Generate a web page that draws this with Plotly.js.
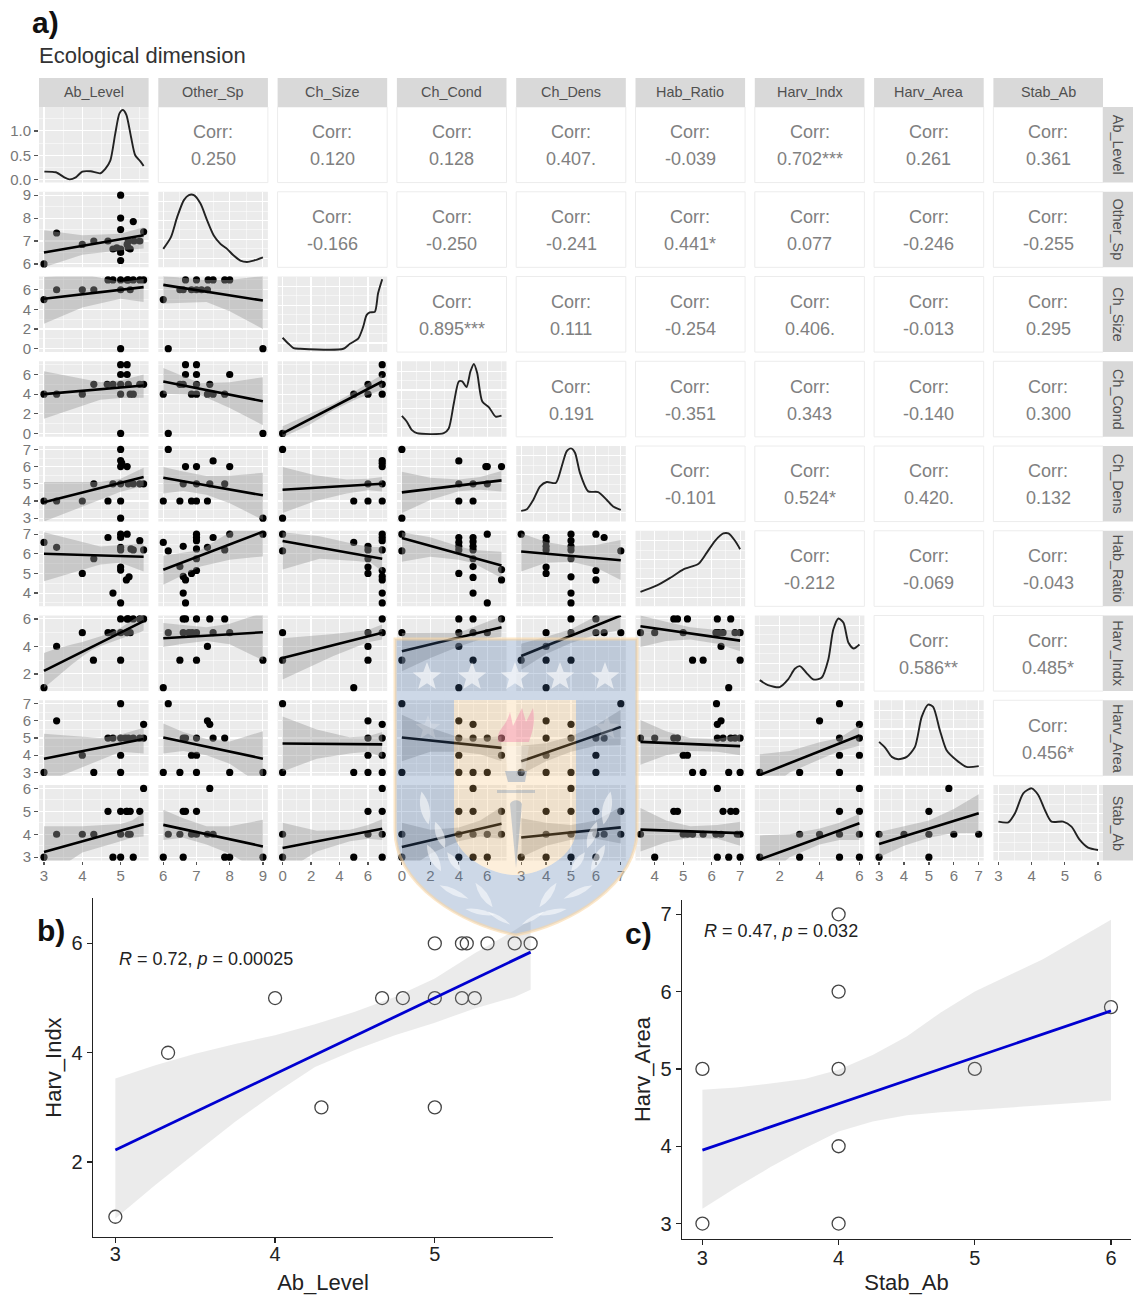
<!DOCTYPE html>
<html>
<head>
<meta charset="utf-8">
<script src="https://cdn.plot.ly/plotly-3.0.1.min.js"></script>
<style>html,body{margin:0;padding:0;background:#fff}#plot{width:1134px;height:1295px}</style>
</head>
<body>
<div id="plot"></div>
<script>
// ---------- variables ----------
const variables = ['Ab_Level','Other_Sp','Ch_Size','Ch_Cond','Ch_Dens','Hab_Ratio','Harv_Indx','Harv_Area','Stab_Ab'];
const varRanges = [[2.87,5.73],[5.85,9.15],[-0.35,7.35],[-0.35,7.35],[2.8,7.2],[3.325,7.175],[0.75,6.25],[2.8,7.2],[2.85,6.15]];
const varTicks  = [[3,4,5],[6,7,8,9],[0,2,4,6],[0,2,4,6],[3,4,5,6,7],[4,5,6,7],[2,4,6],[3,4,5,6,7],[3,4,5,6]];

// ---------- correlation labels (upper triangle, by row) ----------
const corrRow1 = ['0.250','0.120','0.128','0.407.','-0.039','0.702***','0.261','0.361'];
const corrRow2 = ['-0.166','-0.250','-0.241','0.441*','0.077','-0.246','-0.255'];
const corrRow3 = ['0.895***','0.111','-0.254','0.406.','-0.013','0.295'];
const corrRow4 = ['0.191','-0.351','0.343','-0.140','0.300'];
const corrRow5 = ['-0.101','0.524*','0.420.','0.132'];
const corrRow6 = ['-0.212','-0.069','-0.043'];
const corrRow7 = ['0.586**','0.485*'];
const corrRow8 = ['0.456*'];

// ---------- density curves (diagonal) ----------
const densAbLevel = [[3.01,.166],[3.31,.152],[3.53,.048],[3.67,.007],[3.83,.048],[4,.166],[4.22,.172],[4.47,.131],[4.6,.22],[4.73,.39],[4.86,.945],[4.97,1.36],[5.06,1.43],[5.15,1.33],[5.27,.88],[5.38,.5],[5.51,.38],[5.6,.28]];
const densOtherSp = [[6,.244],[6.23,.4],[6.42,.667],[6.62,.889],[6.77,.956],[6.92,.956],[7.12,.844],[7.32,.622],[7.52,.422],[7.72,.311],[7.92,.244],[8.12,.156],[8.32,.089],[8.52,.071],[8.72,.089],[9,.133]];
const densChSize = [[0,.19],[.42,.11],[.77,.053],[1.23,.044],[4.27,.044],[4.73,.11],[5.31,.178],[5.66,.333],[5.9,.489],[6.13,.524],[6.48,.533],[6.71,.778],[7,.964]];
const densChCond = [[0,.276],[.35,.2],[.71,.089],[1.06,.049],[2.94,.049],[3.29,.111],[3.65,.444],[4,.733],[4.24,.733],[4.54,.658],[4.82,.867],[5.06,.964],[5.29,.844],[5.65,.467],[6.12,.391],[6.59,.267],[7,.28]];
const densChDens = [[3,.142],[3.23,.164],[3.49,.289],[3.76,.467],[4.03,.524],[4.39,.511],[4.63,.733],[4.83,.933],[5,.969],[5.16,.911],[5.36,.644],[5.69,.4],[6.09,.391],[6.43,.289],[6.69,.2],[7,.156]];
const densHabRatio = [[3.5,.191],[4.08,.276],[4.55,.378],[5.01,.489],[5.54,.564],[5.83,.711],[6.12,.867],[6.41,.964],[6.59,.964],[6.82,.867],[7,.756]];
const densHarvIndx = [[1,.145],[1.41,.079],[2,.053],[2.42,.154],[2.76,.295],[3.01,.33],[3.34,.242],[3.68,.154],[4.1,.176],[4.44,.419],[4.69,.815],[4.95,.96],[5.2,.903],[5.45,.639],[5.71,.564],[6,.617]];
const densHarvArea = [[3,.449],[3.24,.374],[3.51,.251],[3.77,.22],[4.11,.251],[4.44,.383],[4.71,.78],[4.97,.943],[5.17,.912],[5.44,.604],[5.71,.339],[6.11,.207],[6.51,.119],[7,.128]];
const densStabAb = [[3,.515],[3.3,.507],[3.5,.626],[3.75,.89],[4,.956],[4.2,.868],[4.4,.67],[4.6,.515],[4.95,.515],[5.2,.449],[5.45,.273],[5.7,.172],[6,.141]];

// ---------- panel b / c ----------
const bPoints = [[3,1],[3.33,4],[4,5],[4.29,3],[4.67,5],[4.8,5],[5,6],[5,5],[5,3],[5.17,6],[5.2,6],[5.17,5],[5.25,5],[5.33,6],[5.5,6],[5.6,6]];
const bFit = [3,2.22,5.6,5.84];
const bBand = [[3,.97,3.53],[3.25,1.58,3.77],[3.5,2.16,3.98],[3.75,2.74,4.16],[4,3.26,4.32],[4.25,3.74,4.52],[4.5,4.05,4.75],[4.75,4.32,5.02],[5,4.55,5.36],[5.25,4.81,5.82],[5.5,5.02,6.24],[5.6,5.15,6.43]];
const cPoints = [[3,3],[3,5],[4,7],[4,6],[4,5],[4,4],[4,3],[5,5],[6,5.8]];
const cFit = [3,3.95,6,5.75];
const cBand = [[3,3.19,4.73],[3.25,3.47,4.76],[3.5,3.73,4.81],[3.75,3.97,4.87],[4,4.19,4.99],[4.25,4.32,5.18],[4.5,4.4,5.42],[4.75,4.44,5.73],[5,4.47,6],[5.5,4.53,6.42],[6,4.59,6.93]];

// ---------- scatter panels: points, fits [x0,y0,x1,y1], bands [x,lo,hi], one entry per column ----------
const row2Points = [
 [[3,6],[3.33,7.35],[4,6.85],[4.3,7],[4.67,7],[4.8,6.65],[5,9],[5,8],[5,7.5],[5,6.65],[5,6.5],[5,6.15],[5.17,6.85],[5.2,6.7],[5.2,7],[5.33,7.85],[5.25,6.65],[5.35,7],[5.5,7],[5.6,7.4],[4.9,6.7]]];
const row2Fit = [[3,6.5,5.6,7.25]];
const row2Band = [[[3,5.85,7.47],[4,6.4,7.25],[5,6.6,7.32],[5.6,6.67,7.6]]];

const row3Points = [
 [[3,5],[3.33,6],[4,6],[4.3,6],[4.67,7],[4.8,7],[5,7],[5,6],[5,0],[5.17,7],[5.2,7],[5.25,6],[5.33,7],[5.5,7],[5.6,7]],
 [[6,5],[6.15,0],[9,0],[6.5,6],[6.6,6],[6.67,7],[7,7],[6.85,6],[7,6],[7.15,6],[7.35,7],[7.5,7],[7.33,6],[7.85,7],[8,7]]];
const row3Fit = [[3,5.08,5.6,6.27],[6,6.5,9,4.9]];
const row3Band = [
 [[3,2.54,7.3],[4,4.2,7.6],[5,5.08,6.8],[5.6,4.75,7.1]],
 [[6,4.6,7.4],[7.3,4.75,7],[8,3.8,7],[9,2,7.4]]];

const row4Points = [
 [[3,4],[3.33,4],[4,4],[4.3,5],[4.65,5],[4.8,5],[5,7],[5,6],[5,5],[5,4],[5,0],[5.17,7],[5.17,6],[5.2,5],[5.25,4],[5.33,4],[5.5,5],[5.6,5]],
 [[6,4],[6.15,0],[9,0],[6.67,7],[7,7],[6.67,6],[7,6],[8,6],[6.5,5],[6.6,5],[7,5],[7.4,5],[6.85,4],[7,4],[7.33,4],[7.5,4],[7.85,4]],
 [[0,0],[5,4],[6,4],[7,4],[6,5],[7,5],[7,6],[7,7]]];
const row4Fit = [[3,4,5.6,4.88],[6,5.29,9,3.27],[0,0,7,5.29]];
const row4Band = [
 [[3,1.5,6.33],[4.47,3.43,5.2],[5,3.6,5.4],[5.6,3.64,6]],
 [[6,4.04,6.67],[7.12,3.9,5.1],[8,2.6,5.2],[9,.84,5.72]],
 [[0,-.4,.74],[1.8,.8,1.92],[3.57,2.36,3.03],[5.2,3.5,4.4],[7,4.44,6]]];

const row5Points = [
 [[3,4],[3.33,4],[4,4],[4.3,5],[4.67,4],[4.8,5],[5,7],[5,6.35],[5,6],[5,5],[5,4],[5,3],[5.17,6],[5.2,5],[5.33,5],[5.5,5],[5.6,5],[5.03,6.2]],
 [[6,4],[6.15,7],[6.5,4],[6.67,6],[6.85,4],[7,6],[7,4],[7.33,4],[7.4,5],[7.5,6.33],[7.85,5],[8,6],[9,3],[6.6,5],[7,5]],
 [[0,7],[0,3],[5,4],[6,4],[6,5],[7,4],[7,5],[7,6],[7,6.35],[7,6.2]],
 [[0,7],[0,3],[4,6.33],[4,5],[4,4],[5,5],[5,4],[6,6],[6,5],[7,6],[5.9,6]]];
const row5Fit = [[3,3.92,5.6,5.4],[6,5.35,9,4.33],[0,4.65,7,5],[0,4.5,7,5.2]];
const row5Band = [
 [[3,2.8,5.1],[4.47,4.05,5.1],[5,4.54,5.3],[5.6,4.87,5.94]],
 [[6,4.44,5.98],[6.6,4.58,5.72],[7.3,4.36,5.46],[8,3.87,5.47],[9,2.9,5.64]],
 [[0,3.3,5.98],[2.3,4,5.5],[4.5,4.44,5.25],[6,4.62,5.3],[7,4.55,5.4]],
 [[0,3.3,5.7],[2,4.05,5.35],[4,4.56,5.25],[5.5,4.65,5.4],[7,4.55,5.75]]];

const row6Points = [
 [[3,6.58],[3.33,6.33],[4,5],[4.3,5.75],[4.67,6.83],[4.8,4],[5,7],[5,6.83],[5,6.33],[5,6.2],[5,5.33],[5,5.17],[5,3.5],[5.17,7],[5.15,4.67],[5.22,4.83],[5.27,6.25],[5.33,6.2],[5.5,6.67],[5.6,6.2]],
 [[6,6.58],[6.15,6.15],[6.5,5.35],[6.6,6.38],[6.6,4.85],[6.67,4.67],[6.6,4],[6.67,3.5],[7,7],[7,6.83],[7,6.67],[7,6.25],[7,5.75],[6.85,5],[7,5.15],[7.33,6.33],[7.5,6.83],[7.85,6.2],[8,7],[9,7]],
 [[0,7],[0,6.15],[5,6.58],[6,6.38],[6,6.2],[6,5.75],[6,5.33],[6,5],[7,7],[7,6.83],[7,6.67],[7,6.2],[7,5.15],[7,4.85],[7,4.67],[7,4],[7,3.5]],
 [[0,7],[0,6.15],[4,6.83],[4,6.58],[4,6.38],[4,6.2],[4,5],[5,6.83],[5,6.62],[5,6.38],[5,6.2],[5,5.75],[5,5.35],[5,4.8],[5,4],[6,7],[6,3.5],[7,5.2],[7,4.67]],
 [[3,7],[4,6.83],[4,6.63],[4,6.38],[4,6.2],[4,5.33],[4,5],[5,7],[5,6.67],[5,6.38],[5,6.2],[5,5.75],[5,4.83],[5,4],[5,3.5],[6,7],[6,5.15],[6,4.67],[6.33,6.83],[7,6.15]]];
const row6Fit = [[3,6,5.6,5.85],[6,5.19,9,7.13],[0,6.65,7,5.75],[0,6.8,7,5.4],[3,6.12,7,5.67]];
const row6Band = [
 [[3,4.6,7.1],[4.47,5.45,6.37],[5,5.55,6.45],[5.6,5.1,6.53]],
 [[6,4.43,5.9],[7.12,5.35,6.2],[8,5.7,7.1],[9,5.87,8]],
 [[0,5.2,7.1],[2.6,5.75,6.9],[5.2,5.63,6.47],[6.2,5.55,6.35],[7,5.1,6.35]],
 [[0,5.6,7.1],[2,5.85,6.85],[4,5.7,6.38],[5,5.53,6.2],[7,4.77,6.1]],
 [[3,5.1,7.05],[4,5.55,6.6],[5,5.6,6.38],[6,5.3,6.45],[7,4.67,6.7]]];

const row7Points = [
 bPoints,
 [[6,1],[6.5,3],[7,3],[9,3],[7.33,4],[6.15,5],[6.6,5],[6.77,5],[6.87,5],[7,5],[7.5,5],[8,5],[6.6,6],[6.67,6],[7,6],[7.4,6],[7.85,6]],
 [[0,5],[0,3],[5,1],[6,3],[6,4],[6,5],[7,5],[7,6]],
 [[0,5],[0,3],[4,6],[5,6],[7,6],[4,5],[5,5],[6,5],[4,4],[5,3],[4,1]],
 [[3,3],[4,5],[4,4],[4,3],[4,1],[5,6],[5,5],[5,3],[6,6],[6,5],[6.33,5],[7,5]],
 [[3.5,5],[4,5],[4.67,6],[4.8,6],[5.15,6],[5,5],[5.33,3],[5.7,3],[6.2,6],[6.15,5],[6.25,5],[6.4,5],[6.33,4],[6.67,6],[6.82,5],[7,5],[7,3],[6.6,1]]];
const row7Fit = [[3,2.22,5.6,5.84],[6,4.6,9,5.03],[0,3.15,7,5],[0,3.65,7,5.4],[3,3.3,7,6.25],[3.5,5.47,7,4.42]];
const row7Band = [
 bBand,
 [[6,3.95,5.7],[6.6,4.2,5.55],[7.3,4.4,5.4],[8,4.15,5.65],[9,3,6.45]],
 [[0,1.6,4.6],[3.57,3.3,4.9],[6,4.3,5.2],[7,4.5,5.6]],
 [[0,2.2,4.97],[2,3.15,5],[4,4,5],[5.5,4.5,5.6],[7,4.7,6.2]],
 [[3,2.3,4.2],[4,3.45,4.7],[5,4.25,5.25],[6,4.85,6.2],[7,5.2,7.4]],
 [[3.5,3.96,6.25],[4.4,4.4,5.8],[5.25,4.5,5.4],[6.2,4.2,5.2],[7,3.65,5.2]]];

const row8Points = [
 [[3,3],[3.33,6],[4,4],[4.3,3],[4.67,5],[4.8,5],[5,7],[5,5],[5,4],[5,3],[5.12,5],[5.2,5],[5.33,5],[5.5,5],[5.6,5.8],[5.6,5]],
 [[6,3],[6.15,7],[6.5,3],[6.6,5],[6.67,5],[6.85,4],[7,4],[7,5],[7,3],[7.33,6],[7.4,5.8],[7.5,5],[7.85,5],[8,3],[9,3]],
 [[0,7],[0,3],[5,3],[6,6],[6,5],[6,4],[6,3],[7,5.8],[7,5],[7,4],[7,3]],
 [[0,7],[0,3],[4,6],[4,5],[4,4],[4,3],[5,5.8],[5,5],[5,3],[6,5],[6,3],[7,5],[7,4]],
 [[3,3],[4,6],[4,5],[4,4],[4,3],[5,5.8],[5,5],[5,3],[6,5],[6,4],[6,3],[6.33,5],[7,7]],
 [[3.5,5],[4,5],[4.67,5],[4.8,5],[5,4],[5.15,4],[5.33,3],[5.7,3],[6.17,7],[6.2,5.8],[6.33,6],[6.2,5],[6.4,5],[6.6,3],[6.67,5],[6.82,5],[7,5],[7,3]],
 [[1,3],[3,3],[4,6],[5,7],[5,5],[5,4],[5,3],[6,5.8],[6,5],[6,4]]];
const row8Fit = [[3,3.8,5.6,4.95],[6,5.03,9,3.8],[0,4.68,7,4.63],[0,5.03,7,4.43],[3,3.65,7,5.65],[3.5,4.78,7,4.53],[1,2.85,6,5.15]];
const row8Band = [
 [[3,2.4,5.25],[4.47,3.75,5],[5,4.2,5.2],[5.6,4.1,5.6]],
 [[6,4.1,5.85],[6.6,4.25,5.35],[7.3,4,4.95],[8,3.5,4.8],[9,2.2,5.4]],
 [[0,3.05,6.25],[2.4,3.8,5.5],[4.7,4.1,5.05],[6,4.2,5.1],[7,3.9,5.35]],
 [[0,3.65,6.35],[2,4.2,5.6],[4,4.2,5.05],[5.5,4.05,5],[7,3.65,5.1]],
 [[3,2.9,4.55],[4,3.65,4.7],[5,4.2,5.1],[6,4.55,5.75],[7,4.6,6.65]],
 [[3.5,3.45,6.05],[4.4,4,5.4],[5.25,4.25,5],[6.2,4.2,4.95],[7,4,5.2]],
 [[1,1.65,4.05],[2.5,3,4.25],[4,3.75,4.75],[5,4.25,5],[6,4.55,5.75]]];

const row9Points = [
 [[3,3],[3.33,4],[4,4],[4.3,4],[4.67,5],[4.8,3],[5,5],[5,4],[5,3],[5.17,5],[5.2,4],[5.25,4],[5.33,3],[5.5,5],[5.6,6],[5.15,5],[5.25,5]],
 [[6,3],[6.15,4],[6.5,4],[6.6,3],[6.6,5],[6.67,5],[6.85,4],[7,5],[7,4],[7.33,4],[7.4,6],[7.5,4],[7.85,3],[8,3],[9,3]],
 [[0,4],[0,3],[5,3],[6,5],[6,4],[7,6],[7,5],[7,4],[7,3]],
 [[0,4],[0,3],[4,5],[4,4],[4,3],[5,6],[5,5],[5,4],[5,3],[6,4],[6,3],[7,5],[7,4]],
 [[3,3],[4,5],[4,4],[4,3],[5,6],[5,5],[5,4],[5,3],[6,5],[6,4],[6,3],[6.33,4],[7,5],[7,4]],
 [[3.5,4],[4,3],[4.67,5],[4.8,5],[5,4],[5.15,4],[5.33,4],[5.7,4],[6.2,6],[6.2,3],[6.15,4],[6.33,4],[6.4,5],[6.67,5],[6.85,5],[6.6,3],[7,3],[6.9,4],[7,4]],
 [[1,3],[3,4],[3,3],[4,4],[5,5],[5,4],[5,3],[6,6],[6,5],[6,4],[6,3]],
 [[3,4],[3,3],[4,4],[5,5],[5,4],[5,3],[5.8,6],[6,4],[7,4]]];
const row9Fit = [[3,3.22,5.6,4.44],[6,4.41,9,3.47],[0,3.4,7,4.24],[0,3.44,7,4.46],[3,3.86,7,4.3],[3.5,4.2,7,4.05],[1,2.9,6,4.48],[3,3.57,7,4.92]];
const row9Band = [
 [[3,2.1,4.35],[4,3.2,4.35],[5,3.7,4.45],[5.3,3.85,4.6],[5.6,3.9,4.95]],
 [[6,3.75,5.07],[6.6,3.85,4.7],[7.3,3.55,4.35],[8,3.15,4.35],[9,2.3,4.63]],
 [[0,2.3,4.5],[2.4,3.25,4.15],[4.73,3.7,4.2],[6,3.8,4.4],[7,3.75,4.65]],
 [[0,2.3,4.5],[2,3.15,4.2],[4,3.69,4.3],[5.5,3.9,4.6],[7,3.8,5.2]],
 [[3,3,4.7],[4,3.5,4.5],[5,3.76,4.4],[6,3.8,4.6],[7,3.6,5.2]],
 [[3.5,3.25,5.15],[4.4,3.65,4.6],[5.25,3.85,4.35],[6.2,3.8,4.4],[7,3.5,4.55]],
 [[1,1.9,3.95],[2.5,3,4],[4,3.55,4.25],[5,3.75,4.5],[6,3.75,4.9]],
 [[3,3,4.1],[4,3.5,4.35],[5,3.85,4.6],[6,4.05,5.1],[7,4.05,5.75]]];

// ---------- assembly ----------
const W = 1134, H = 1295;
const FONT = '"Liberation Sans", Arial, sans-serif';
const fx = p => p / W, fy = p => 1 - p / H;
const colLeft = i => 39 + 119.3 * i, rowTop = i => 107 + 84.75 * i;
const cellW = 109.6, cellH = 75.6;

const corrRows = [corrRow1,corrRow2,corrRow3,corrRow4,corrRow5,corrRow6,corrRow7,corrRow8];
const densities = [densAbLevel,densOtherSp,densChSize,densChCond,densChDens,densHabRatio,densHarvIndx,densHarvArea,densStabAb];
const lowerPoints = [null,row2Points,row3Points,row4Points,row5Points,row6Points,row7Points,row8Points,row9Points];
const lowerFit = [null,row2Fit,row3Fit,row4Fit,row5Fit,row6Fit,row7Fit,row8Fit,row9Fit];
const lowerBand = [null,row2Band,row3Band,row4Band,row5Band,row6Band,row7Band,row8Band,row9Band];

const traces = [], shapes = [], annotations = [];
const layout = {
  width: W, height: H, margin: {l:0,r:0,t:0,b:0}, showlegend: false,
  paper_bgcolor: '#fff', plot_bgcolor: 'rgba(0,0,0,0)',
  font: {family: FONT},
  hovermode: false,
  title: {text: 'Ecological dimension', x: fx(39), xanchor: 'left', y: fy(55), yanchor: 'middle',
          font: {family: FONT, size: 22, color: '#333'}},
  shapes, annotations
};

function midpoints(t, range) {
  const step = t.length > 1 ? t[1] - t[0] : 1, out = [];
  for (let v = t[0] - step / 2; v <= range[1]; v += step) if (v >= range[0]) out.push(v);
  return out;
}
function ggAxis(dom, range, ticks, show) {
  return {
    domain: dom, range, tickmode: 'array', tickvals: ticks,
    ticktext: ticks.map(v => range[1] < 2 ? v.toFixed(1) : String(v)),
    showticklabels: show, ticks: show ? 'outside' : '', ticklen: 4, tickwidth: 1.2, tickcolor: '#555',
    tickfont: {family: FONT, size: 15, color: '#777'},
    showgrid: true, gridcolor: '#fff', gridwidth: 1.1, zeroline: false, showline: false, fixedrange: true,
    minor: {tickmode: 'array', tickvals: midpoints(ticks, range), showgrid: true, gridcolor: '#fff', gridwidth: 0.5, ticks: ''}
  };
}

let n = 0;
function addAxes(xa, ya) {
  n++;
  const s = n === 1 ? '' : n;
  xa.anchor = 'y' + s; ya.anchor = 'x' + s;
  layout['xaxis' + s] = xa; layout['yaxis' + s] = ya;
  return {xaxis: 'x' + s, yaxis: 'y' + s};
}
function addBand(ax, band, fill) {
  const fwd = band.map(b => b[0]), lo = band.map(b => b[1]), hi = band.map(b => b[2]);
  traces.push({type:'scatter', mode:'lines', x: fwd.concat(fwd.slice().reverse()), y: lo.concat(hi.slice().reverse()),
    fill:'toself', fillcolor: fill, line:{width:0}, hoverinfo:'skip', ...ax});
}

for (let r = 0; r < 9; r++) {
  for (let c = 0; c < 9; c++) {
    const L = colLeft(c), T = rowTop(r);
    const xd = [fx(L), fx(L + cellW)], yd = [fy(T + cellH), fy(T)];
    if (c > r) {
      shapes.push({type:'rect', xref:'paper', yref:'paper', x0:xd[0], x1:xd[1], y0:yd[0], y1:yd[1],
        fillcolor:'#fff', line:{color:'#ececec', width:1}, layer:'below'});
      const cx = fx(L + cellW / 2);
      annotations.push({xref:'paper', yref:'paper', x:cx, y:fy(T + cellH / 2 - 12.5), text:'Corr:', showarrow:false,
        xanchor:'center', yanchor:'middle', font:{family:FONT, size:18, color:'#808080'}});
      annotations.push({xref:'paper', yref:'paper', x:cx, y:fy(T + cellH / 2 + 14.5), text:corrRows[r][c - r - 1], showarrow:false,
        xanchor:'center', yanchor:'middle', font:{family:FONT, size:18, color:'#808080'}});
      continue;
    }
    shapes.push({type:'rect', xref:'paper', yref:'paper', x0:xd[0], x1:xd[1], y0:yd[0], y1:yd[1],
      fillcolor:'#ebebeb', line:{width:0}, layer:'below'});
    const xa = ggAxis(xd, varRanges[c], varTicks[c], r === 8);
    if (r === 8) { xa.ticklen = 3; xa.ticklabelstandoff = -2; }
    let ya;
    if (c === r) {
      ya = r === 0 ? ggAxis(yd, [-0.06,1.49], [0,0.5,1], true) : ggAxis(yd, [0,1], [.12,.37,.62,.87], false);
    } else {
      ya = ggAxis(yd, varRanges[r], varTicks[r], c === 0);
    }
    const ax = addAxes(xa, ya);
    if (c === r) {
      traces.push({type:'scatter', mode:'lines', x:densities[c].map(d => d[0]), y:densities[c].map(d => d[1]),
        line:{color:'#222', width:1.9, shape:'spline', smoothing:0.7}, hoverinfo:'skip', ...ax});
    } else {
      const pts = lowerPoints[r][c];
      traces.push({type:'scatter', mode:'markers', x:pts.map(p => p[0]), y:pts.map(p => p[1]),
        marker:{color:'#000', size:7.2, line:{width:0}}, cliponaxis:false, hoverinfo:'skip', ...ax});
      addBand(ax, lowerBand[r][c], 'rgba(153,153,153,0.42)');
      const f = lowerFit[r][c];
      traces.push({type:'scatter', mode:'lines', x:[f[0],f[2]], y:[f[1],f[3]],
        line:{color:'#000', width:2.6}, hoverinfo:'skip', ...ax});
    }
  }
}

// strips
variables.forEach((v, i) => {
  const L = colLeft(i), T = rowTop(i);
  shapes.push({type:'rect', xref:'paper', yref:'paper', x0:fx(L), x1:fx(L + cellW), y0:fy(107), y1:fy(78),
    fillcolor:'#d9d9d9', line:{width:0}, layer:'below'});
  annotations.push({xref:'paper', yref:'paper', x:fx(L + cellW / 2), y:fy(92.5), text:v, showarrow:false,
    xanchor:'center', yanchor:'middle', font:{family:FONT, size:14.4, color:'#505050'}});
  shapes.push({type:'rect', xref:'paper', yref:'paper', x0:fx(1103), x1:fx(1133), y0:fy(T + cellH), y1:fy(T),
    fillcolor:'#d9d9d9', line:{width:0}, layer:'below'});
  annotations.push({xref:'paper', yref:'paper', x:fx(1118), y:fy(T + cellH / 2), text:v, textangle:90, showarrow:false,
    xanchor:'center', yanchor:'middle', font:{family:FONT, size:14.4, color:'#505050'}});
});

// panels b and c
function classicPanel(px, points, fit, band, xRange, yRange, xTicks, yTicks, xTitle, yTitle, label, pull) {
  const base = {
    tickmode:'array', showline:true, linecolor:'#222', linewidth:1.4, ticks:'outside', ticklen:5, tickwidth:1.3, tickcolor:'#222',
    tickfont:{family:FONT, size:20, color:'#222'}, showgrid:false, zeroline:false, fixedrange:true
  };
  const xa = {...base, domain:[fx(px.l), fx(px.r)], range:xRange, tickvals:xTicks, ticklabelstandoff:pull,
    title:{text:xTitle, font:{family:FONT, size:22, color:'#222'}, standoff:6 - pull}};
  const ya = {...base, domain:[fy(px.b), fy(px.t)], range:yRange, tickvals:yTicks,
    title:{text:yTitle, font:{family:FONT, size:22, color:'#222'}, standoff:3}};
  const ax = addAxes(xa, ya);
  traces.push({type:'scatter', mode:'markers', x:points.map(p => p[0]), y:points.map(p => p[1]),
    marker:{symbol:'circle-open', color:'#444', size:13, line:{width:1.3, color:'#444'}}, cliponaxis:false, hoverinfo:'skip', ...ax});
  addBand(ax, band, 'rgba(153,153,153,0.2)');
  traces.push({type:'scatter', mode:'lines', x:[fit[0],fit[2]], y:[fit[1],fit[3]],
    line:{color:'#0000d0', width:2.8}, hoverinfo:'skip', ...ax});
  annotations.push({xref:'paper', yref:'paper', x:fx(label.x), y:fy(label.y), text:label.text, showarrow:false,
    xanchor:'left', yanchor:'middle', font:{family:FONT, size:18, color:'#222'}});
}
classicPanel({l:93,r:553,t:898,b:1237}, bPoints, bFit, bBand, [2.86,5.74], [0.63,6.83], [3,4,5], [2,4,6], 'Ab_Level', 'Harv_Indx',
  {x:117, y:959, text:'<i>R</i> = 0.72, <i>p</i> = 0.00025'}, -6);
classicPanel({l:682,r:1131,t:900,b:1239}, cPoints, cFit, cBand, [2.85,6.147], [2.8,7.185], [3,4,5,6], [3,4,5,6,7], 'Stab_Ab', 'Harv_Area',
  {x:702, y:931, text:'<i>R</i> = 0.47, <i>p</i> = 0.032'}, -4);

// panel letters
[['a)',30,22],['b)',35,930],['c)',623,933]].forEach(([t,x,y]) => annotations.push({xref:'paper', yref:'paper', x:fx(x), y:fy(y), text:'<b>'+t+'</b>',
  showarrow:false, xanchor:'left', yanchor:'middle', font:{family:FONT, size:30, color:'#111'}}));

// ---------- watermark crest (decoration, page pixels) ----------
function toPaper(path) {
  let isX = true;
  return path.replace(/-?\d+(\.\d+)?/g, m => { const v = isX ? fx(+m) : fy(+m); isX = !isX; return v.toFixed(5); });
}
function crest(path, fill, line) {
  shapes.push({type:'path', xref:'paper', yref:'paper', path:toPaper(path), fillcolor:fill || 'rgba(0,0,0,0)',
    line: line || {width:0}, layer:'above'});
}
const shieldOuter = 'M395 639 L637 639 L637 830 C637 885 570 925 516 935 C462 925 395 885 395 830 Z';
const shieldInnerHole = 'M454 700 L454 830 C454 855 490 875 516 875 C542 875 576 855 576 830 L576 700 Z';
crest(shieldOuter + ' ' + shieldInnerHole, 'rgba(70,110,165,0.27)');
crest(shieldInnerHole, 'rgba(248,190,110,0.25)');
crest(shieldOuter, null, {color:'rgba(250,215,165,0.6)', width:3});
function star(cx, cy, r) {
  let d = '';
  for (let i = 0; i < 10; i++) {
    const a = -Math.PI / 2 + i * Math.PI / 5, q = i % 2 ? r * 0.42 : r;
    d += (i ? 'L' : 'M') + (cx + q * Math.cos(a)).toFixed(1) + ' ' + (cy + q * Math.sin(a)).toFixed(1) + ' ';
  }
  return d + 'Z';
}
[427,472,515,560,605].forEach(x => crest(star(x, 677, 15), 'rgba(255,255,255,0.6)'));
[428,607].forEach(x => crest(star(x, 728, 13), 'rgba(255,255,255,0.2)'));
crest('M498 742 C497 727 505 730 510 712 L513 726 L522 708 L526 722 L533 708 C536 725 531 735 529 742 Z', 'rgba(240,110,160,0.35)');
crest('M504 746 L529 746 L525 772 L508 772 Z', 'rgba(255,255,255,0.2)');
crest('M505 771 L527 771 L525 782 L508 782 Z', 'rgba(70,110,165,0.3)');
crest('M497 790 L535 790 L535 793 L497 793 Z', 'rgba(70,110,165,0.25)');
crest('M510 804 C512 799 520 799 522 804 L516 868 Z', 'rgba(70,110,165,0.28)');
function leaf(cx, cy, len, wid, deg) {
  const a = deg * Math.PI / 180, ux = Math.cos(a), uy = Math.sin(a), nx = -uy, ny = ux;
  const p = (s, t) => (cx + ux * s + nx * t).toFixed(1) + ' ' + (cy + uy * s + ny * t).toFixed(1);
  return 'M' + p(-len/2,0) + ' Q' + p(0,wid) + ' ' + p(len/2,0) + ' Q' + p(0,-wid) + ' ' + p(-len/2,0) + ' Z';
}
[[607,808,34,9,-78],[592,835,28,8,-70],[598,858,30,8,-62],[578,862,24,7,-55],[578,892,32,6,-25],[548,895,30,7,-55],[552,912,30,5,-12],[533,918,26,4,-30]]
  .forEach(([x,y,l,w,d]) => {
    crest(leaf(x,y,l,w,d), 'rgba(255,255,255,0.55)');
    crest(leaf(1032-x,y,l,w,180-d), 'rgba(255,255,255,0.55)');
  });

Plotly.newPlot('plot', traces, layout, {displayModeBar:false, staticPlot:true, responsive:false});
</script>
</body>
</html>
